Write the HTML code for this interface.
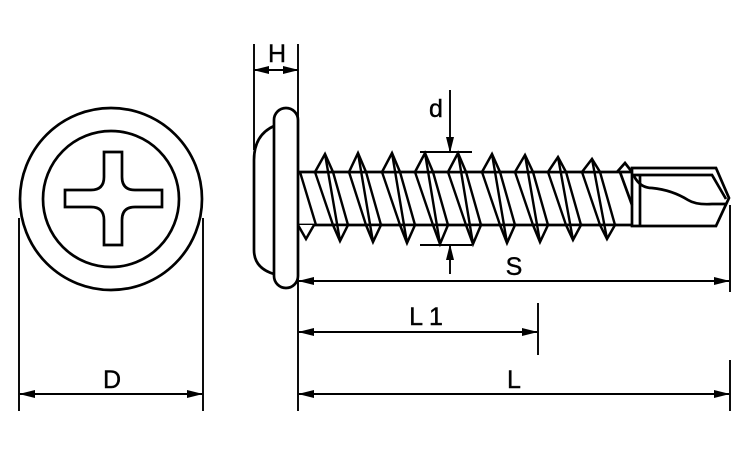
<!DOCTYPE html>
<html><head><meta charset="utf-8"><style>
html,body{margin:0;padding:0;background:#fff;width:750px;height:450px;overflow:hidden}
svg text{font-family:"Liberation Sans",sans-serif;font-size:25px;fill:#000;stroke:#000;stroke-width:0.4}
</style></head><body>
<svg width="750" height="450" viewBox="0 0 750 450" xmlns="http://www.w3.org/2000/svg">
<defs>
<marker id="a" markerWidth="16" markerHeight="8" refX="15" refY="4" orient="auto" markerUnits="userSpaceOnUse"><path d="M0,0 L16,4 L0,8 z" fill="#000"/></marker>
</defs>
<g fill="none" stroke="#000" stroke-width="2.7">
<circle cx="111" cy="199" r="91"/>
<circle cx="111" cy="199" r="68"/>
<path d="M104,152 H122 V177 Q122,190 135,190 H162 V207 H135 Q122,207 122,220 V245 H104 V220 Q104,207 91,207 H65 V190 H91 Q104,190 104,177 Z"/>
<rect x="274" y="108" width="24" height="180" rx="12"/>
<path d="M274,126 Q254,135 254,160 V250 Q254,268 274,274"/>
<line x1="298" y1="172" x2="632" y2="172"/>
<line x1="298" y1="225" x2="632" y2="225"/>
<path d="M632,168 H716 L729,198 L716,226 H632 Z"/>
<path d="M633,175 H712 L726,199"/>
<line x1="640" y1="176" x2="640" y2="226"/>
<path d="M634,176 Q640,188 652,188 Q672,190 688,200 Q696,205 712,204 H727"/>
<path d="M617,172 L625,163 L632,172 M620,172 L632,205"/>
</g>
<g fill="#fff" stroke="#000" stroke-width="2.5" stroke-linejoin="miter">
<path d="M315,172 L325,154 L333,172 Z M333,225 L340,241 L348,225 Z"/>
<path d="M349,172 L358,153 L366,172 Z M366,225 L373,242 L381,225 Z"/>
<path d="M382,172 L392,153 L400,172 Z M400,225 L407,243 L415,225 Z"/>
<path d="M415,172 L425,153 L433,172 Z M433,225 L440,244 L448,225 Z"/>
<path d="M448,172 L458,153 L466,172 Z M466,225 L473,244 L481,225 Z"/>
<path d="M482,172 L492,154 L500,172 Z M500,225 L507,243 L515,225 Z"/>
<path d="M515,172 L525,155 L533,172 Z M533,225 L540,242 L548,225 Z"/>
<path d="M548,172 L558,157 L566,172 Z M566,225 L573,240 L581,225 Z"/>
<path d="M582,172 L592,159 L600,172 Z M600,225 L607,239 L615,225 Z"/>
<path d="M298,225 L306,239 L314,225"/>
</g>
<g fill="none" stroke="#000" stroke-width="2.4">
<path d="M315,172 L333,225 M325,154 L340,241 M333,172 L348,225 M300,172 L316,225"/>
<path d="M349,172 L366,225 M358,153 L373,242 M366,172 L381,225"/>
<path d="M382,172 L400,225 M392,153 L407,243 M400,172 L415,225"/>
<path d="M415,172 L433,225 M425,153 L440,244 M433,172 L448,225"/>
<path d="M448,172 L466,225 M458,153 L473,244 M466,172 L481,225"/>
<path d="M482,172 L500,225 M492,154 L507,243 M500,172 L515,225"/>
<path d="M515,172 L533,225 M525,155 L540,242 M533,172 L548,225"/>
<path d="M548,172 L566,225 M558,157 L573,240 M566,172 L581,225"/>
<path d="M582,172 L600,225 M592,159 L607,239 M600,172 L615,225"/>
</g>
<g stroke="#000" stroke-width="1.9" fill="none">
<line x1="254" y1="44" x2="254" y2="150"/>
<line x1="298" y1="44" x2="298" y2="411"/>
<line x1="276" y1="70" x2="254" y2="70" marker-end="url(#a)"/>
<line x1="276" y1="70" x2="298" y2="70" marker-end="url(#a)"/>
<line x1="450" y1="90" x2="450" y2="152" marker-end="url(#a)"/>
<line x1="420" y1="152" x2="472" y2="152"/>
<line x1="420" y1="245" x2="472" y2="245"/>
<line x1="450" y1="274" x2="450" y2="245" marker-end="url(#a)"/>
<line x1="730" y1="205" x2="730" y2="292"/>
<line x1="730" y1="360" x2="730" y2="411"/>
<line x1="514" y1="281" x2="299" y2="281" marker-end="url(#a)"/>
<line x1="514" y1="281" x2="729" y2="281" marker-end="url(#a)"/>
<line x1="538" y1="303" x2="538" y2="355"/>
<line x1="420" y1="332" x2="299" y2="332" marker-end="url(#a)"/>
<line x1="420" y1="332" x2="537" y2="332" marker-end="url(#a)"/>
<line x1="514" y1="394" x2="299" y2="394" marker-end="url(#a)"/>
<line x1="514" y1="394" x2="729" y2="394" marker-end="url(#a)"/>
<line x1="19" y1="218" x2="19" y2="411"/>
<line x1="203" y1="218" x2="203" y2="411"/>
<line x1="111" y1="394" x2="20" y2="394" marker-end="url(#a)"/>
<line x1="111" y1="394" x2="202" y2="394" marker-end="url(#a)"/>
</g>
<text x="277" y="62" text-anchor="middle">H</text>
<text x="436" y="117" text-anchor="middle">d</text>
<text x="514" y="275" text-anchor="middle">S</text>
<text x="426" y="325" text-anchor="middle">L 1</text>
<text x="514" y="388" text-anchor="middle">L</text>
<text x="112" y="388" text-anchor="middle">D</text>
</svg>
</body></html>
